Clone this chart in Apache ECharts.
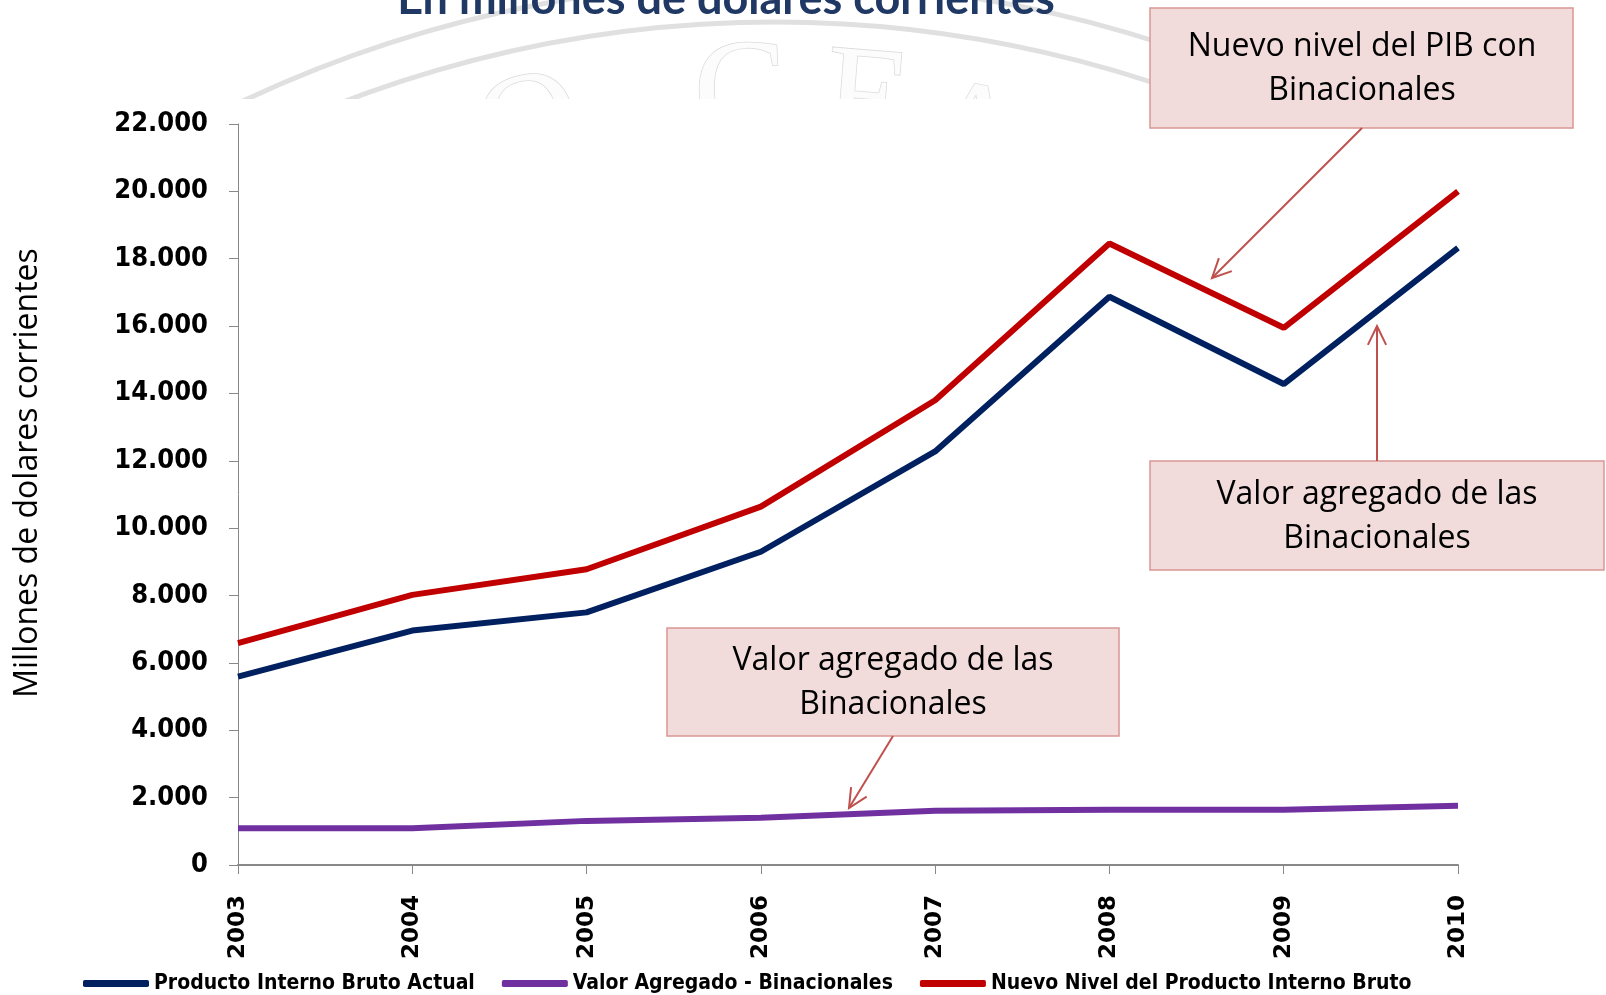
<!DOCTYPE html>
<html>
<head>
<meta charset="utf-8">
<script src="https://cdn.jsdelivr.net/npm/echarts@6/dist/echarts.min.js"></script>
<style>
  html, body { margin: 0; padding: 0; background: #fff; }
  #main { width: 1606px; height: 995px; }
</style>
</head>
<body>
<div id="main"></div>
<script>
// datos
var years = ["2003", "2004", "2005", "2006", "2007", "2008", "2009", "2010"];
var pibActual = [5590, 6960, 7500, 9300, 12280, 16870, 14280, 18320];
var valorBinacionales = [1090, 1090, 1310, 1400, 1610, 1640, 1640, 1760];
var nuevoNivel = [6590, 8020, 8780, 10640, 13800, 18450, 15950, 20000];

var chart = echarts.init(document.getElementById("main"));

var arrowColor = "#C0504D";
var boxFill = "#F2DCDB";
var boxStroke = "#D99694";
var boxFont = '32px "Open Sans"';

//flecha con punta abierta
function arrow(x1, y1, x2, y2) {
  var ang = Math.atan2(y2 - y1, x2 - x1);
  var L = 21, a = 0.45;
  var p1 = [x2 - L * Math.cos(ang - a), y2 - L * Math.sin(ang - a)];
  var p2 = [x2 - L * Math.cos(ang + a), y2 - L * Math.sin(ang + a)];
  return [
    { type: "line", z: 20, shape: { x1: x1, y1: y1, x2: x2, y2: y2 }, style: { stroke: arrowColor, lineWidth: 2 } },
    { type: "polyline", z: 20, shape: { points: [p1, [x2, y2], p2] }, style: { stroke: arrowColor, lineWidth: 2, fill: null } }
  ];
}

//recuadro con dos lineas de texto
function box(x, y, w, h, lines, cx, ly) {
  var els = [
    { type: "rect", z: 20, shape: { x: x, y: y, width: w, height: h }, style: { fill: boxFill, stroke: boxStroke, lineWidth: 1.5 } }
  ];
  for (var i = 0; i < lines.length; i++) {
    els.push({
      type: "text", z: 21, x: cx, y: ly[i],
      style: { text: lines[i], font: boxFont, fill: "#000", textAlign: "center", textVerticalAlign: "middle" }
    });
  }
  return els;
}

function wmLetter(ch, x, y, rot) {
  return {
    type: "text", z: -10, x: x, y: y, rotation: rot,
    style: { text: ch, font: '140px "Liberation Serif"', fill: "#fcfcfc", stroke: "#dadada", lineWidth: 1.5, textVerticalAlign: "top" }
  };
}

var graphics = [
  // marca de agua
  { type: "arc", z: -10, shape: { cx: 775, cy: 1230, r: 1248, startAngle: -2.1, endAngle: -1.1 }, style: { stroke: "#e0e0e0", lineWidth: 5, fill: null } },
  { type: "arc", z: -10, shape: { cx: 775, cy: 1230, r: 1208, startAngle: -2.1, endAngle: -1.1 }, style: { stroke: "#e0e0e0", lineWidth: 5, fill: null } },
  wmLetter("O", 465, 75, 0.25),
  wmLetter("C", 692, 30, 0.03),
  wmLetter("E", 830, 32, -0.08),
  wmLetter("A", 935, 62, -0.18),
  { type: "rect", z: -5, shape: { x: 0, y: 99, width: 1606, height: 896 }, style: { fill: "#fff" } },
  // titulo recortado
  {
    type: "text", z: 1, x: 726, y: 22,
    style: { text: "En millones de dolares corrientes", font: 'bold 45px Lato', fill: "#1F3864", textAlign: "center", textVerticalAlign: "bottom" }
  },
  // nombre del eje y
  {
    type: "text", z: 1, x: 28, y: 473, rotation: Math.PI / 2,
    style: { text: "Millones de dolares corrientes", font: '32px "Open Sans"', fill: "#000", textAlign: "center", textVerticalAlign: "middle" }
  }
];

graphics = graphics
  .concat(box(1150, 8, 423, 120, ["Nuevo nivel del PIB con", "Binacionales"], 1362, [47, 91]))
  .concat(box(1150, 461, 454, 109, ["Valor agregado de las", "Binacionales"], 1377, [495, 539]))
  .concat(box(667, 628, 452, 108, ["Valor agregado de las", "Binacionales"], 893, [661, 705]))
  .concat(arrow(1362, 128, 1212, 278))
  .concat(arrow(1377, 461, 1377, 326))
  .concat(arrow(893, 736, 849, 808));

var option = {
  backgroundColor: "#fff",
  animation: false,
  grid: { left: 238, right: 148, top: 124, bottom: 130 },
  legend: {
    left: 78,
    top: 968,
    icon: "roundRect",
    itemWidth: 66,
    itemHeight: 7,
    itemGap: 27,
    textStyle: { fontFamily: "DejaVu Sans Condensed", fontWeight: "bold", fontSize: 21, color: "#000" },
    data: ["Producto Interno Bruto Actual", "Valor Agregado - Binacionales", "Nuevo Nivel del Producto Interno Bruto"]
  },
  xAxis: {
    type: "category",
    data: years,
    boundaryGap: false,
    axisLine: { lineStyle: { color: "#888", width: 2 } },
    axisTick: { show: true, length: 9, lineStyle: { color: "#888" } },
    axisLabel: { rotate: 90, margin: 30, color: "#000", fontFamily: "DejaVu Sans", fontWeight: "bold", fontSize: 23 }
  },
  yAxis: {
    type: "value",
    min: 0,
    max: 22000,
    interval: 2000,
    splitLine: { show: false },
    axisLine: { show: true, lineStyle: { color: "#888", width: 1 } },
    axisTick: { show: true, length: 9, lineStyle: { color: "#888" } },
    axisLabel: {
      margin: 30,
      color: "#000",
      fontFamily: "DejaVu Sans Condensed",
      fontWeight: "bold",
      fontSize: 27,
      formatter: function(v) {
        return String(v).replace(/\B(?=(\d{3})+(?!\d))/g, ".");
      }
    }
  },
  series: [
    {
      name: "Producto Interno Bruto Actual",
      type: "line",
      data: pibActual,
      showSymbol: false,
      itemStyle: { color: "#002060" },
      lineStyle: { color: "#002060", width: 6 }
    },
    {
      name: "Valor Agregado - Binacionales",
      type: "line",
      data: valorBinacionales,
      showSymbol: false,
      itemStyle: { color: "#7030A0" },
      lineStyle: { color: "#7030A0", width: 6 }
    },
    {
      name: "Nuevo Nivel del Producto Interno Bruto",
      type: "line",
      data: nuevoNivel,
      showSymbol: false,
      itemStyle: { color: "#C00000" },
      lineStyle: { color: "#C00000", width: 6 }
    }
  ],
  graphic: graphics
};

chart.setOption(option);
</script>
</body>
</html>
